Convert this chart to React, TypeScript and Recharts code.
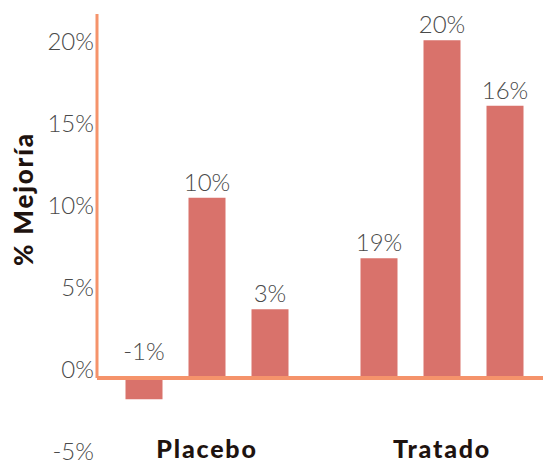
import React from 'react';
import { Bar, BarChart, XAxis, YAxis, ReferenceLine, LabelList } from 'recharts';

// groups along the x axis
const categories = ['Placebo', 'Tratado'];

// bar heights (% improvement) as drawn, one array per bar position in a group
const firstBar = [-1.3, 7.3];
const secondBar = [11.0, 20.6];
const thirdBar = [4.2, 16.6];

// texts printed above each bar
const firstLabels = ['-1%', '19%'];
const secondLabels = ['10%', '20%'];
const thirdLabels = ['3%', '16%'];

const yTicks = [-5, 0, 5, 10, 15, 20];
const Y_MIN = -5;
const Y_MAX = 22.2;

const data = categories.map((name, i) => ({
  name,
  a: firstBar[i],
  b: secondBar[i],
  c: thirdBar[i],
}));

const BAR_COLOR = '#d9726b';
const AXIS_COLOR = '#f5936b';
const TEXT_GRAY = '#4a4a4a';
const DARK = '#1e130f';
const FONT = 'Lato, "Open Sans", sans-serif';

const YTick = (props: any) => {
  const { x, y, payload } = props;
  return (
    <text x={x} y={y} textAnchor="end" fill={TEXT_GRAY} fontFamily={FONT} fontWeight={300} fontSize={24}>
      {`${payload.value}%`}
    </text>
  );
};

const XTick = (props: any) => {
  const { x, y, payload } = props;
  return (
    <text x={x} y={y - 2} textAnchor="middle" fill={DARK} fontFamily={FONT} fontWeight={900} fontSize={25} letterSpacing={1.8}>
      {payload.value}
    </text>
  );
};

const YTitle = () => (
  <text
    x={33}
    y={199}
    transform="rotate(-90, 33, 199)"
    textAnchor="middle"
    fill={DARK}
    fontFamily={FONT}
    fontWeight={900}
    fontSize={26}
    letterSpacing={1.8}
  >
    % Mejoría
  </text>
);

const makeLabel = (texts: string[]) => (props: any) => {
  const { x, y, width, height, value, index } = props;
  const top = Math.min(y, y + height);
  const baseline = value < 0 ? top - 18 : top - 7;
  return (
    <text x={x + width / 2} y={baseline} textAnchor="middle" fill={TEXT_GRAY} fontFamily={FONT} fontWeight={300} fontSize={24}>
      {texts[index]}
    </text>
  );
};

export default function App() {
  return (
    <div style={{ position: 'absolute', left: 0, top: 0, width: 543, height: 464, background: '#fff' }}>
      <BarChart
        width={543}
        height={464}
        data={data}
        margin={{ top: 14, right: 0, bottom: 0, left: 0 }}
        barSize={37}
        barGap={26}
      >
        <XAxis
          dataKey="name"
          axisLine={false}
          tickLine={false}
          tickSize={0}
          tickMargin={0}
          height={4}
          padding={{ left: -7.5, right: -16.5 }}
          tick={<XTick />}
        />
        <XAxis xAxisId="frame" type="number" domain={[0, 1]} hide />
        <YAxis
          type="number"
          domain={[Y_MIN, Y_MAX]}
          ticks={yTicks}
          interval={0}
          width={97}
          axisLine={false}
          tickLine={false}
          tickSize={0}
          tickMargin={3}
          tick={<YTick />}
          label={<YTitle />}
        />
        <Bar dataKey="a" fill={BAR_COLOR} isAnimationActive={false}>
          <LabelList dataKey="a" content={makeLabel(firstLabels)} />
        </Bar>
        <Bar dataKey="b" fill={BAR_COLOR} isAnimationActive={false}>
          <LabelList dataKey="b" content={makeLabel(secondLabels)} />
        </Bar>
        <Bar dataKey="c" fill={BAR_COLOR} isAnimationActive={false}>
          <LabelList dataKey="c" content={makeLabel(thirdLabels)} />
        </Bar>
        <ReferenceLine xAxisId="frame" y={0} stroke={AXIS_COLOR} strokeWidth={4} />
        <ReferenceLine
          xAxisId="frame"
          segment={[{ x: 0, y: 0 }, { x: 0, y: Y_MAX }]}
          stroke={AXIS_COLOR}
          strokeWidth={3}
        />
      </BarChart>
    </div>
  );
}
